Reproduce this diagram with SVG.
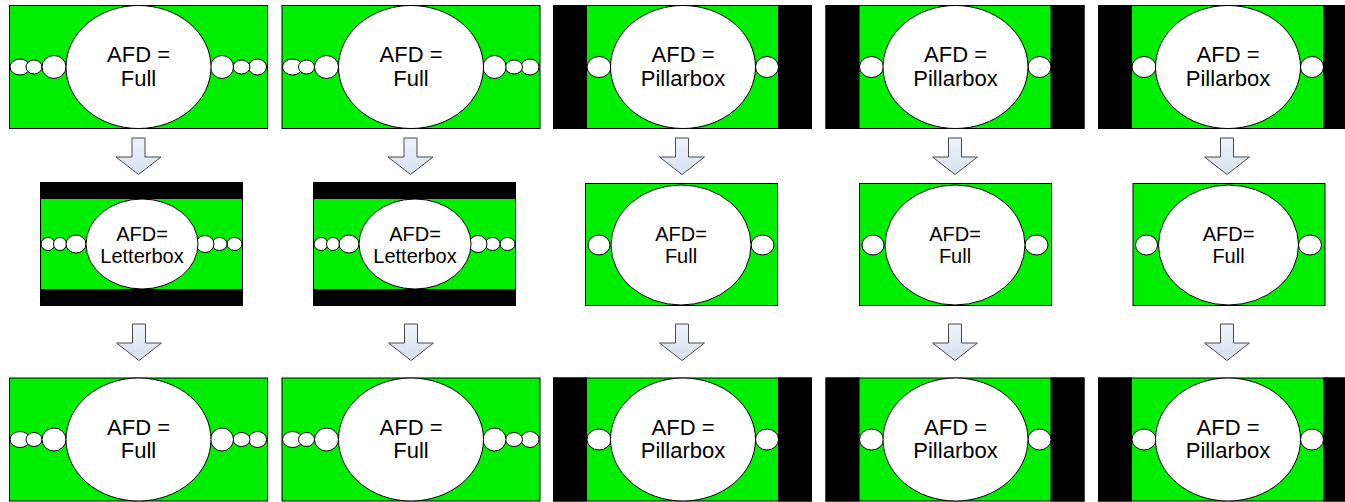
<svg xmlns="http://www.w3.org/2000/svg" xmlns:xlink="http://www.w3.org/1999/xlink" width="1345" height="502" viewBox="0 0 1345 502">
  <style>
    .pic { fill: #00ee00; stroke: #000; stroke-width: 1; }
    .bar { fill: #000; stroke: none; }
    .blob { fill: #fff; stroke: #000; stroke-width: 1; }
    .lbl { font-family: "Liberation Sans", Arial, sans-serif; font-size: 22px; fill: #000; text-anchor: middle; }
    .lbl-m { font-family: "Liberation Sans", Arial, sans-serif; font-size: 20px; fill: #000; text-anchor: middle; }
    .arrow { fill: url(#arrowFill); stroke: #4a4a4a; stroke-width: 1; stroke-linejoin: miter; }
  </style>
  <defs>
    <linearGradient id="arrowFill" x1="0" y1="0" x2="0" y2="1">
      <stop offset="0" stop-color="#eef3fa"/>
      <stop offset="1" stop-color="#d6e1f0"/>
    </linearGradient>

    <!-- 16:9 full-frame picture, 258 x 123 -->
    <g id="fullFrame">
      <rect class="pic" x="0.5" y="0.5" width="258" height="123"/>
      <ellipse class="blob" cx="11" cy="62" rx="10" ry="8"/>
      <ellipse class="blob" cx="25" cy="62" rx="8" ry="7"/>
      <ellipse class="blob" cx="45" cy="62" rx="12" ry="11.5"/>
      <ellipse class="blob" cx="248.5" cy="62" rx="9" ry="8"/>
      <ellipse class="blob" cx="232.5" cy="62" rx="8.5" ry="7"/>
      <ellipse class="blob" cx="213" cy="62" rx="11.5" ry="11.5"/>
      <ellipse class="blob" cx="129.5" cy="62" rx="72.5" ry="61.5"/>
    </g>

    <!-- 16:9 frame carrying a 4:3 picture between side bars, 258 x 123 -->
    <g id="pillarFrame">
      <rect class="pic" x="0.5" y="0.5" width="258" height="123"/>
      <rect class="bar" x="0" y="0" width="34" height="124"/>
      <rect class="bar" x="225" y="0" width="34" height="124"/>
      <ellipse class="blob" cx="46" cy="62" rx="12" ry="10.5"/>
      <ellipse class="blob" cx="214" cy="62" rx="11.5" ry="10.5"/>
      <ellipse class="blob" cx="130" cy="62" rx="72.5" ry="61.5"/>
    </g>

    <!-- 4:3 frame carrying a 16:9 picture between top/bottom bars, 202 x 123 -->
    <g id="letterFrame">
      <rect class="pic" x="0.5" y="0.5" width="202" height="123"/>
      <rect class="bar" x="0" y="0" width="203" height="17"/>
      <rect class="bar" x="0" y="107" width="203" height="17"/>
      <ellipse class="blob" cx="8" cy="62" rx="7" ry="6.5"/>
      <ellipse class="blob" cx="20" cy="62" rx="6.5" ry="6.5"/>
      <ellipse class="blob" cx="36" cy="62" rx="10" ry="9"/>
      <ellipse class="blob" cx="194.5" cy="62" rx="7.5" ry="6.5"/>
      <ellipse class="blob" cx="179.5" cy="62" rx="7.5" ry="6.5"/>
      <ellipse class="blob" cx="165" cy="62" rx="9" ry="8.5"/>
      <ellipse class="blob" cx="102" cy="62" rx="56" ry="45"/>
    </g>

    <!-- 4:3 full-frame picture, 192 x 122 -->
    <g id="narrowFrame">
      <rect class="pic" x="0.5" y="0.5" width="192" height="122"/>
      <ellipse class="blob" cx="14" cy="62" rx="11" ry="10"/>
      <ellipse class="blob" cx="177.5" cy="62" rx="11.5" ry="10"/>
      <ellipse class="blob" cx="96" cy="62" rx="70" ry="60"/>
    </g>

    <!-- block arrow pointing down -->
    <path id="downArrow" class="arrow" d="M-6.5,0 H6.5 V19 H22.5 L0,36.5 L-22.5,19 H-6.5 Z"/>
  </defs>

  <!-- source row -->
  <g id="src1" transform="translate(9,5)">
    <use href="#fullFrame"/>
    <text class="lbl" x="129.5" y="57">AFD =</text>
    <text class="lbl" x="129.5" y="80.5">Full</text>
  </g>
  <g id="src2" transform="translate(281.5,5)">
    <use href="#fullFrame"/>
    <text class="lbl" x="129.5" y="57">AFD =</text>
    <text class="lbl" x="129.5" y="80.5">Full</text>
  </g>
  <g id="src3" transform="translate(553,5)">
    <use href="#pillarFrame"/>
    <text class="lbl" x="130" y="57">AFD =</text>
    <text class="lbl" x="130" y="80.5">Pillarbox</text>
  </g>
  <g id="src4" transform="translate(825.5,5)">
    <use href="#pillarFrame"/>
    <text class="lbl" x="130" y="57">AFD =</text>
    <text class="lbl" x="130" y="80.5">Pillarbox</text>
  </g>
  <g id="src5" transform="translate(1098,5)">
    <use href="#pillarFrame"/>
    <text class="lbl" x="130" y="57">AFD =</text>
    <text class="lbl" x="130" y="80.5">Pillarbox</text>
  </g>

  <!-- intermediate 4:3 row -->
  <g id="mid1" transform="translate(40,182)">
    <use href="#letterFrame"/>
    <text class="lbl-m" x="102" y="59">AFD=</text>
    <text class="lbl-m" x="102" y="81">Letterbox</text>
  </g>
  <g id="mid2" transform="translate(313,182)">
    <use href="#letterFrame"/>
    <text class="lbl-m" x="102" y="59">AFD=</text>
    <text class="lbl-m" x="102" y="81">Letterbox</text>
  </g>
  <g id="mid3" transform="translate(585,183)">
    <use href="#narrowFrame"/>
    <text class="lbl-m" x="96" y="58">AFD=</text>
    <text class="lbl-m" x="96" y="80">Full</text>
  </g>
  <g id="mid4" transform="translate(859,183)">
    <use href="#narrowFrame"/>
    <text class="lbl-m" x="96" y="58">AFD=</text>
    <text class="lbl-m" x="96" y="80">Full</text>
  </g>
  <g id="mid5" transform="translate(1132.5,183)">
    <use href="#narrowFrame"/>
    <text class="lbl-m" x="96" y="58">AFD=</text>
    <text class="lbl-m" x="96" y="80">Full</text>
  </g>

  <!-- output row -->
  <g id="out1" transform="translate(9,377.5)">
    <use href="#fullFrame"/>
    <text class="lbl" x="129.5" y="57">AFD =</text>
    <text class="lbl" x="129.5" y="80.5">Full</text>
  </g>
  <g id="out2" transform="translate(281.5,377.5)">
    <use href="#fullFrame"/>
    <text class="lbl" x="129.5" y="57">AFD =</text>
    <text class="lbl" x="129.5" y="80.5">Full</text>
  </g>
  <g id="out3" transform="translate(553,377.5)">
    <use href="#pillarFrame"/>
    <text class="lbl" x="130" y="57">AFD =</text>
    <text class="lbl" x="130" y="80.5">Pillarbox</text>
  </g>
  <g id="out4" transform="translate(825.5,377.5)">
    <use href="#pillarFrame"/>
    <text class="lbl" x="130" y="57">AFD =</text>
    <text class="lbl" x="130" y="80.5">Pillarbox</text>
  </g>
  <g id="out5" transform="translate(1098,377.5)">
    <use href="#pillarFrame"/>
    <text class="lbl" x="130" y="57">AFD =</text>
    <text class="lbl" x="130" y="80.5">Pillarbox</text>
  </g>

  <!-- conversion arrows -->
  <g id="connectors">
    <use href="#downArrow" x="138.5" y="138"/>
    <use href="#downArrow" x="410.5" y="138"/>
    <use href="#downArrow" x="682" y="138"/>
    <use href="#downArrow" x="955" y="138"/>
    <use href="#downArrow" x="1227" y="138"/>
    <use href="#downArrow" x="139" y="324"/>
    <use href="#downArrow" x="411" y="324"/>
    <use href="#downArrow" x="682" y="324"/>
    <use href="#downArrow" x="955" y="324"/>
    <use href="#downArrow" x="1227" y="324"/>
  </g>
</svg>
